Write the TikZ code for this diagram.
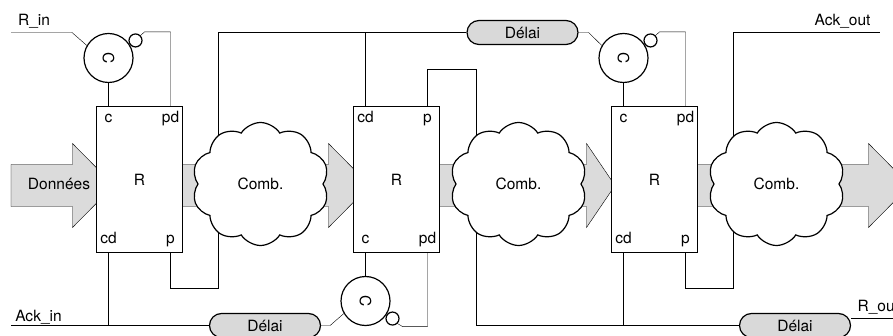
\documentclass[tikz,border=0pt]{standalone}
\usepackage{fontspec}
\setmainfont{TeX Gyre Heros}
\usepackage{graphicx}
\usepackage{tikz}
\usetikzlibrary{shapes.symbols,calc,backgrounds}

\begin{document}
\begin{tikzpicture}[x=1pt,y=-1pt,line width=1.2pt,
  font=\fontsize{15.5}{18}\selectfont,
  reg node/.style={rectangle,draw,fill=white,minimum width=86pt,minimum height=146pt,inner sep=0pt},
  comb node/.style={cloud,draw,fill=white,cloud puffs=10,cloud puff arc=115,aspect=1.2,
    minimum width=137pt,minimum height=123pt,inner sep=0pt},
  c node/.style={circle,draw,fill=white,minimum size=49pt,inner sep=0pt},
  bubble node/.style={circle,draw,fill=white,minimum size=13pt,inner sep=0pt},
  delay node/.style={rectangle,rounded corners=12pt,draw,fill=black!15,
    minimum width=111pt,minimum height=24pt,inner sep=0pt},
  flow/.style={draw,fill=black!14,line join=miter},
  port/.style={anchor=base,inner sep=0pt}]

  \useasboundingbox (0,0) rectangle (893,336);

  % registres et leurs ports
  \foreach \n/\x/\tl/\tr/\bl/\br in {r1/139.5/c/pd/cd/p,r2/396.5/cd/p/c/pd,r3/654.5/c/pd/cd/p} {
    \node[reg node] (\n) at (\x,179.5) {R};
    \node[port] at (\x-31,123) {\tl};
    \node[port] at (\x+31,123) {\tr};
    \node[port] at (\x-31,244) {\bl};
    \node[port] at (\x+31,244) {\br};
    \coordinate (\n-tl) at (\x-31,106.5);
    \coordinate (\n-tr) at (\x+31,106.5);
    \coordinate (\n-bl) at (\x-31,252.5);
    \coordinate (\n-br) at (\x+31,252.5);
  }

  \node[comb node] (k1) at (260.5,184) {Comb.};
  \node[comb node] (k2) at (518.5,184) {Comb.};
  \node[comb node] (k3) at (776.5,184) {Comb.};

  % portes de Muller
  \node[c node] (c1) at (108.5,58) {\rotatebox{-90}{C}};
  \node[c node] (c2) at (365.5,301) {\rotatebox{-90}{C}};
  \node[c node] (c3) at (623.5,58) {\rotatebox{-90}{C}};
  \node[bubble node,anchor=213] (b1) at (c1.33) {};
  \node[bubble node,anchor=147] (b2) at (c2.-33) {};
  \node[bubble node,anchor=213] (b3) at (c3.33) {};

  \node[delay node] (d1) at (522.5,32.5) {Délai};
  \node[delay node] (d2) at (265,325.5) {Délai};
  \node[delay node] (d3) at (795,325.5) {Délai};

  \node[port] at (59,190) {Données};
  \node[port] (rin) at (34,26) {R\_in};
  \node[port] (ackin) at (38.5,321) {Ack\_in};
  \node[port] (ackout) at (842.5,26) {Ack\_out};
  \node[port,anchor=base west] (rout) at (857,311) {R\_out};

  \coordinate (in1) at (11,32.5);
  \coordinate (in2) at (11,325.5);
  \coordinate (out1) at (880,32.5);
  \coordinate (out2) at (893,318.5);

  \begin{scope}[on background layer,line width=1.2pt]
    % chemin des donnees
    \foreach \a/\b/\t in {11/72.5/114,182/328.5/370,439/586.5/615,697/868.5/910}
      \draw[flow] (\a,164.5) -- (\b,164.5) -- (\b,143.5) -- (\t,185.5) -- (\b,227.5) -- (\b,206.5) -- (\a,206.5) -- cycle;

    % requetes et acquittements
    \draw (in1) -- ++(61,0) -- (c1.150);
    \draw (b1.45) -- ++(4,-3.5) -| (r1-tr);
    \draw (c1.south) -- (r1-tl);
    \draw ($(k1)+(-42,0)$) |- (d1.west);
    \draw (r2-tl) -- (r2-tl |- d1.west);
    \draw (d1.east) -- ++(10,0) -- (c3.150);
    \draw (b3.45) -- ++(4,-3.5) -| (r3-tr);
    \draw (c3.south) -- (r3-tl);
    \draw ($(k3)+(-43,0)$) |- (out1);
    \draw (r2-tr) -- ++(0,-37) -| ($(k2)+(-42,0)$);
    \draw (r1-br) -- ++(0,36) -| ($(k1)+(-42,0)$);
    \draw (r1-bl) -- (r1-bl |- d2.west);
    \draw (in2) -- (d2.west);
    \draw (d2.east) -- ++(9,0) -- (c2.-150);
    \draw (b2.-45) -- ++(5,3) -| (r2-br);
    \draw (c2.north) -- (r2-bl);
    \draw ($(k2)+(-42,0)$) |- (d3.west);
    \draw (r3-bl) -- (r3-bl |- d3.west);
    \draw (r3-br) -- ++(0,36) -| ($(k3)+(-43,0)$);
    \draw (out2) -- (out2 -| d3.east);
  \end{scope}
\end{tikzpicture}
\end{document}
